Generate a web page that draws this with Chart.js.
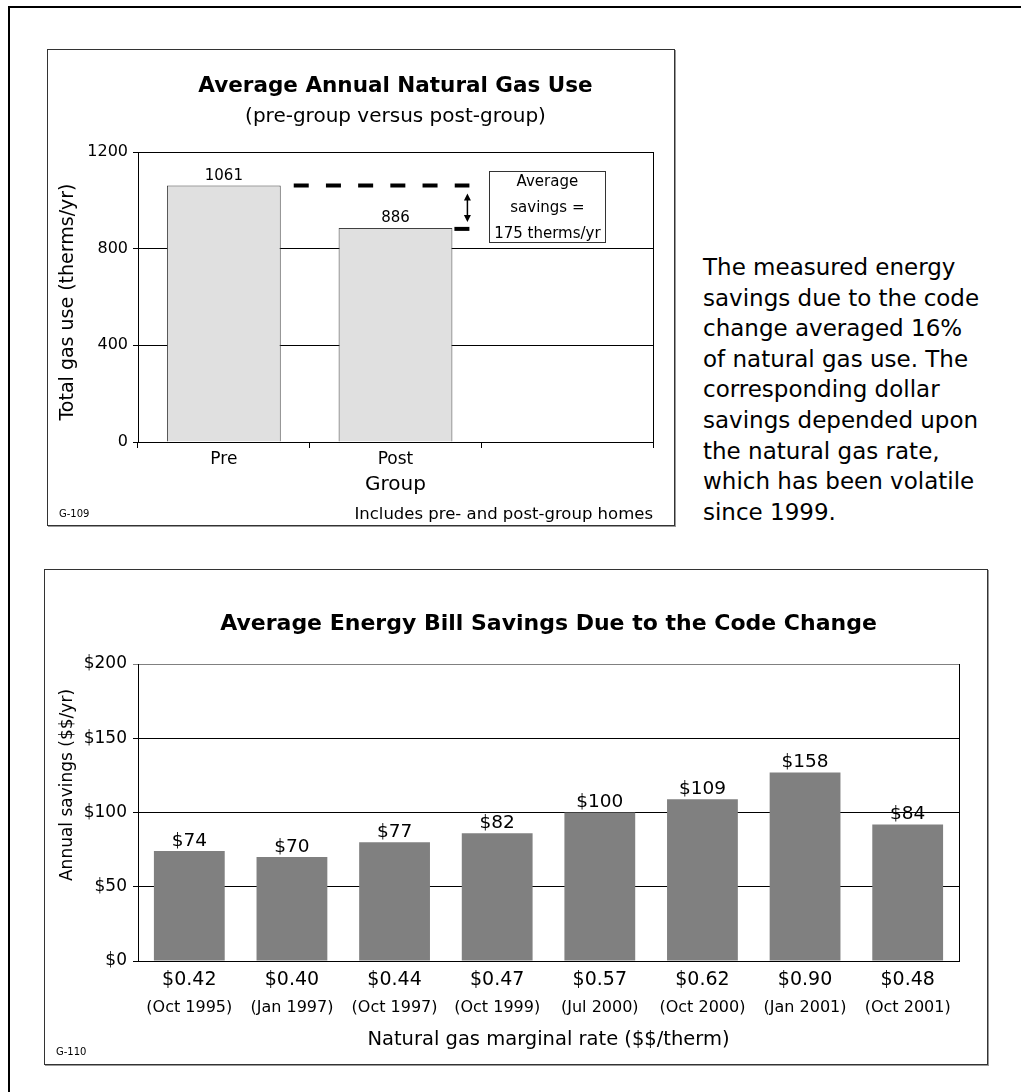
<!DOCTYPE html>
<html>
<head>
<meta charset="utf-8">
<title>Natural gas savings</title>
<script src="https://cdn.jsdelivr.net/npm/chart.js@4.4.0/dist/chart.umd.min.js"></script>
<style>
    body { margin: 0; background: #fff; font-family: "DejaVu Sans", sans-serif; color: #000; }
    #page { position: relative; width: 1021px; height: 1092px; overflow: hidden; }
    .frame-top { position: absolute; left: 8px; top: 6px; right: 0; height: 2px; background: #000; }
    .frame-left { position: absolute; left: 8px; top: 6px; bottom: 0; width: 2px; background: #000; }
    .box { position: absolute; box-sizing: border-box; border: 1px solid #333; box-shadow: 1px 1px 0 #999; }
    .chart-wrap { position: absolute; }
    .note { position: absolute; white-space: nowrap; line-height: 1; }
    #blurb { position: absolute; left: 703px; top: 252px; font-size: 23px; line-height: 30.6px; white-space: nowrap; }
</style>
</head>
<body>
<div id="page">
    <div class="frame-top"></div>
    <div class="frame-left"></div>

    <div class="box" style="left:47px; top:49px; width:628px; height:477px;"></div>
    <div class="chart-wrap" style="left:47px; top:49px; width:628px; height:476px;">
        <canvas id="gasChart"></canvas>
    </div>
    <div class="note" style="left:59px; top:509px; font-size:10px;">G-109</div>
    <div class="note" style="right:368px; top:506px; font-size:16.5px;">Includes pre- and post-group homes</div>

    <div id="blurb">The measured energy<br>savings due to the code<br>change averaged 16%<br>of natural gas use. The<br>corresponding dollar<br>savings depended upon<br>the natural gas rate,<br>which has been volatile<br>since 1999.</div>

    <div class="box" style="left:44px; top:569px; width:944px; height:496px;"></div>
    <div class="chart-wrap" style="left:44px; top:569px; width:943px; height:495px;">
        <canvas id="billChart"></canvas>
    </div>
    <div class="note" style="left:56px; top:1047px; font-size:10px;">G-110</div>
</div>

<script>
// Gas use chart data
const groupLabels = ['Pre', 'Post', ''];
const gasUse = [1061, 886, null];
const gasTicks = [0, 400, 800, 1200];
const noteLines = ['Average', 'savings =', '175 therms/yr'];

// Bill savings chart data
const rateLabels = ['$0.42', '$0.40', '$0.44', '$0.47', '$0.57', '$0.62', '$0.90', '$0.48'];
const rateDates = ['(Oct 1995)', '(Jan 1997)', '(Oct 1997)', '(Oct 1999)', '(Jul 2000)', '(Oct 2000)', '(Jan 2001)', '(Oct 2001)'];
const billSavings = [74, 70, 80, 86, 100, 109, 127, 92];
const savingsLabels = ['$74', '$70', '$77', '$82', '$100', '$109', '$158', '$84'];
const savingsTicks = [0, 50, 100, 150, 200];

Chart.defaults.font.family = '"DejaVu Sans", sans-serif';
Chart.defaults.color = '#000';
Chart.defaults.animation = false;

// text above each bar
const barLabels = {
    id: 'barLabels',
    afterDatasetsDraw(chart, args, opts) {
        const ctx = chart.ctx;
        ctx.save();
        ctx.font = opts.font;
        ctx.fillStyle = '#000';
        ctx.textAlign = 'center';
        ctx.textBaseline = 'middle';
        chart.getDatasetMeta(0).data.forEach((bar, i) => {
            const txt = opts.texts[i];
            if (!txt) return;
            ctx.fillText(txt, bar.x, bar.y - opts.gap);
        });
        ctx.restore();
    }
};

// right edge of the plot frame
const plotEdge = {
    id: 'plotEdge',
    beforeDatasetsDraw(chart) {
        const { ctx, chartArea } = chart;
        ctx.save();
        ctx.strokeStyle = '#000';
        ctx.lineWidth = 1;
        ctx.beginPath();
        ctx.moveTo(Math.round(chartArea.right) + 0.5, chartArea.top);
        ctx.lineTo(Math.round(chartArea.right) + 0.5, chartArea.bottom);
        ctx.stroke();
        ctx.restore();
    }
};

// rotated y axis title, nudged along the axis
const sideTitle = {
    id: 'sideTitle',
    afterDraw(chart, args, opts) {
        const { ctx, chartArea } = chart;
        ctx.save();
        ctx.font = opts.font;
        ctx.fillStyle = '#000';
        ctx.textAlign = 'center';
        ctx.textBaseline = 'middle';
        ctx.translate(opts.x, (chartArea.top + chartArea.bottom) / 2 + opts.shift);
        ctx.rotate(-Math.PI / 2);
        ctx.fillText(opts.text, 0, 0);
        ctx.restore();
    }
};

// dashed level line, arrow and the savings box
const savingsNote = {
    id: 'savingsNote',
    afterDatasetsDraw(chart) {
        const { ctx, scales: { y } } = chart;
        const bars = chart.getDatasetMeta(0).data;
        const yPre = y.getPixelForValue(gasUse[0]);
        const yPost = y.getPixelForValue(gasUse[1]);
        const x0 = bars[0].x + bars[0].width / 2 + 13;
        const x1 = bars[1].x + bars[1].width / 2 + 17;

        ctx.save();
        ctx.strokeStyle = '#000';
        ctx.fillStyle = '#000';
        ctx.lineWidth = 4;
        ctx.setLineDash([15, 17.2]);
        ctx.beginPath();
        ctx.moveTo(x0, yPre);
        ctx.lineTo(x1, yPre);
        ctx.stroke();
        ctx.setLineDash([]);
        ctx.beginPath();
        ctx.moveTo(x1 - 15, yPost + 1);
        ctx.lineTo(x1, yPost + 1);
        ctx.stroke();

        // double arrow
        const ax = x1 - 2;
        const top = yPre + 8, bot = yPost - 6;
        ctx.lineWidth = 1.5;
        ctx.beginPath();
        ctx.moveTo(ax, top + 5);
        ctx.lineTo(ax, bot - 5);
        ctx.stroke();
        ctx.beginPath();
        ctx.moveTo(ax, top); ctx.lineTo(ax - 3.5, top + 7); ctx.lineTo(ax + 3.5, top + 7); ctx.closePath();
        ctx.moveTo(ax, bot); ctx.lineTo(ax - 3.5, bot - 7); ctx.lineTo(ax + 3.5, bot - 7); ctx.closePath();
        ctx.fill();

        // note box
        const bx = x1 + 20, bw = 116;
        const by = yPre - 15, bh = (yPost + 14) - by;
        ctx.fillStyle = '#fff';
        ctx.fillRect(bx, by, bw, bh);
        ctx.lineWidth = 1;
        ctx.strokeStyle = '#333';
        ctx.strokeRect(Math.round(bx) + 0.5, Math.round(by) + 0.5, bw, Math.round(bh));
        ctx.fillStyle = '#000';
        ctx.font = '15px "DejaVu Sans", sans-serif';
        ctx.textAlign = 'center';
        ctx.textBaseline = 'middle';
        noteLines.forEach((line, i) => {
            ctx.fillText(line, bx + bw / 2, by + 12 + i * 26);
        });
        ctx.restore();
    }
};

document.addEventListener('DOMContentLoaded', () => {
    const gasCtx = document.getElementById('gasChart').getContext('2d');
    new Chart(gasCtx, {
        type: 'bar',
        data: {
            labels: groupLabels,
            datasets: [{
                data: gasUse,
                backgroundColor: '#e0e0e0',
                borderColor: '#404040',
                borderWidth: 1,
                barPercentage: 0.663,
                categoryPercentage: 1
            }]
        },
        options: {
            responsive: true,
            maintainAspectRatio: false,
            layout: { padding: { left: 0, right: 22, top: 0, bottom: 0 } },
            plugins: {
                legend: { display: false },
                tooltip: { enabled: false },
                title: {
                    display: true,
                    fullSize: false,
                    text: 'Average Annual Natural Gas Use',
                    font: { size: 21.5, weight: 'bold' },
                    padding: { top: 24.5, bottom: 0 }
                },
                subtitle: {
                    display: true,
                    fullSize: false,
                    text: '(pre-group versus post-group)',
                    color: '#000',
                    font: { size: 20 },
                    padding: { top: 5.7, bottom: 23 }
                },
                barLabels: { texts: gasUse.map(v => v == null ? '' : String(v)), font: '15px "DejaVu Sans", sans-serif', gap: 9.5 },
                sideTitle: { text: 'Total gas use (therms/yr)', font: '19px "DejaVu Sans", sans-serif', x: 21, shift: 5 }
            },
            scales: {
                x: {
                    grid: { display: true, drawOnChartArea: false, offset: true, color: '#000', tickLength: 6 },
                    border: { color: '#000' },
                    ticks: { padding: 1, font: { size: 17 } },
                    title: { display: true, text: 'Group', font: { size: 20 }, padding: { top: 0, bottom: 28 } },
                    afterFit: (s) => { s.height = 83; }
                },
                y: {
                    min: 0,
                    max: 1200,
                    afterBuildTicks: (s) => { s.ticks = gasTicks.map(v => ({ value: v })); },
                    grid: { color: '#000', tickLength: 5 },
                    border: { color: '#000' },
                    ticks: { padding: 5, font: { size: 16 }, callback: (v) => String(v) },
                    afterFit: (s) => { s.width = 91; }
                }
            }
        },
        plugins: [barLabels, plotEdge, savingsNote, sideTitle]
    });

    const billCtx = document.getElementById('billChart').getContext('2d');
    new Chart(billCtx, {
        type: 'bar',
        data: {
            labels: rateLabels,
            datasets: [{
                data: billSavings,
                backgroundColor: '#808080',
                borderWidth: 0,
                barPercentage: 0.69,
                categoryPercentage: 1
            }]
        },
        options: {
            responsive: true,
            maintainAspectRatio: false,
            layout: { padding: { left: 0, right: 28, top: 0, bottom: 0 } },
            plugins: {
                legend: { display: false },
                tooltip: { enabled: false },
                title: {
                    display: true,
                    fullSize: false,
                    text: 'Average Energy Bill Savings Due to the Code Change',
                    font: { size: 22, weight: 'bold' },
                    padding: { top: 41.8, bottom: 26.8 }
                },
                barLabels: { texts: savingsLabels, font: '18.5px "DejaVu Sans", sans-serif', gap: 10 },
                sideTitle: { text: 'Annual savings ($$/yr)', font: '17px "DejaVu Sans", sans-serif', x: 24, shift: -27.5 }
            },
            scales: {
                x: {
                    weight: 0,
                    grid: { display: false },
                    border: { color: '#000' },
                    ticks: { padding: 0, font: { size: 19 } },
                    afterFit: (s) => { s.height = 28; }
                },
                x2: {
                    type: 'category',
                    position: 'bottom',
                    weight: 1,
                    labels: rateDates,
                    grid: { display: false },
                    border: { display: false },
                    ticks: { padding: 1, font: { size: 16 } },
                    title: { display: true, text: 'Natural gas marginal rate ($$/therm)', font: { size: 19.5 }, padding: { top: 0, bottom: 12.3 } },
                    afterFit: (s) => { s.height = 75; }
                },
                y: {
                    min: 0,
                    max: 200,
                    afterBuildTicks: (s) => { s.ticks = savingsTicks.map(v => ({ value: v })); },
                    grid: {
                        color: (c) => c.tick && c.tick.value === 200 ? '#808080' : '#000',
                        tickLength: 5
                    },
                    border: { color: '#000' },
                    ticks: { padding: 6, font: { size: 17 }, callback: (v) => '$' + v },
                    afterFit: (s) => { s.width = 94; }
                }
            }
        },
        plugins: [barLabels, plotEdge, sideTitle]
    });
});
</script>
</body>
</html>
